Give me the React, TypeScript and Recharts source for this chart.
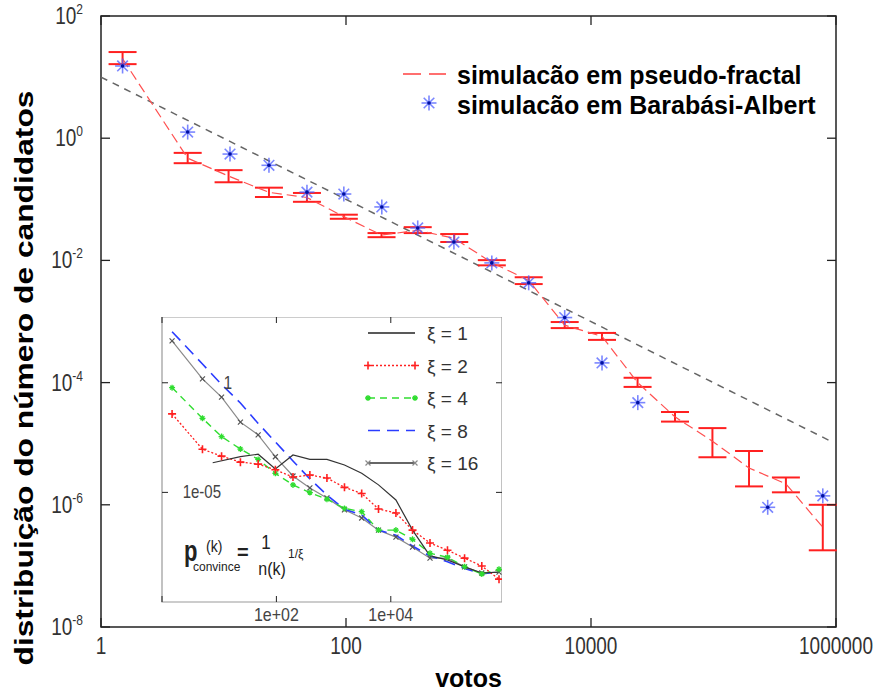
import React from 'react'
import {
  ComposedChart, LineChart, Line, Scatter, XAxis, YAxis, ErrorBar, ReferenceArea,
} from 'recharts'

const FONT = '"Liberation Sans", Arial, Helvetica, sans-serif'

// votos (shared x for the main curves and the inset)
const VOTOS = [1.5, 5.1, 11, 23.5, 48, 96, 195, 385, 765, 1550, 3100, 6100, 12300, 24000, 48500, 98000, 195000, 390000, 780000]

// simulação em pseudo-fractal: value and error bar ends
const PF_Y = [20, 0.47, 0.24, 0.13, 0.107, 0.052, 0.026, 0.031, 0.023, 0.0092, 0.0047, 8.7e-4, 5.7e-4, 1.0e-4, 2.75e-5, 1.1e-5, 4.0e-6, 2.2e-6, 4.3e-7]
const PF_LO = [16.3, 0.39, 0.19, 0.109, 0.091, 0.048, 0.024, 0.028, 0.020, 0.0083, 0.0041, 7.8e-4, 5.0e-4, 8.5e-5, 2.3e-5, 6.0e-6, 2.0e-6, 1.6e-6, 1.8e-7]
const PF_HI = [25.7, 0.575, 0.30, 0.155, 0.127, 0.056, 0.028, 0.035, 0.027, 0.0101, 0.0053, 9.8e-4, 6.5e-4, 1.2e-4, 3.3e-5, 1.8e-5, 7.6e-6, 2.8e-6, 1.0e-6]

// simulação em Barabási-Albert
const BA_X = [1.5, 5.1, 11.3, 23.5, 48, 96, 196, 385, 760, 1550, 3100, 6100, 12300, 24100, 277000, 780000]
const BA_Y = [15.2, 1.26, 0.55, 0.36, 0.131, 0.122, 0.075, 0.034, 0.020, 0.0091, 0.0043, 0.00116, 2.1e-4, 4.7e-5, 9.1e-7, 1.4e-6]

// dashed reference power law
const FIT_X = [1, 930000]
const FIT_Y = [10, 1.07e-5]

const X_TICKS = [1, 100, 10000, 1000000]
const Y_TICKS = [100, 1, 0.01, 1e-4, 1e-6, 1e-8]

// inset: xi = 1 has its own x values
const XI1_X = [7.7, 23.5, 48, 96, 195, 385, 765, 1550, 3100, 6100, 12300, 24000, 48500, 98000, 195000, 390000, 780000]
const XI1_Y = [2.25e-4, 4.3e-4, 5.5e-4, 1.17e-4, 5.1e-4, 3.2e-4, 3.2e-4, 1.78e-4, 7.4e-5, 2.2e-5, 4.5e-6, 1.9e-7, 1.26e-8, 8.3e-9, 4.0e-9, 2.1e-9, 2.3e-9]
const XI2_Y = [0.038, 9.3e-4, 4.5e-4, 2.4e-4, 1.95e-4, 1.07e-4, 5.0e-5, 6.2e-5, 4.5e-5, 1.7e-5, 8.9e-6, 1.74e-6, 1.15e-6, 1.9e-7, 4.9e-8, 2.3e-8, 1.0e-8, 4.4e-9, 1.1e-9]
const XI4_Y = [0.60, 0.024, 3.5e-3, 9.5e-4, 3.2e-4, 7.4e-5, 2.2e-5, 9.8e-6, 4.9e-6, 1.86e-6, 1.32e-6, 1.9e-7, 1.9e-7, 7.2e-8, 1.66e-8, 1.1e-8, 4.1e-9, 1.9e-9, 3.1e-9]
const XI8_Y = [214, 7.2, 0.83, 0.12, 0.014, 2.0e-3, 2.7e-4, 4.1e-5, 7.6e-6, 1.7e-6, 9.3e-7, 1.9e-7, 1.1e-7, 3.6e-8, 1.26e-8, 6.9e-9, 3.4e-9, 1.9e-9, 2.4e-9]
const XI16_Y = [81, 1.5, 0.22, 0.016, 4.2e-3, 4.2e-4, 5.6e-5, 1.6e-5, 5.6e-6, 1.6e-6, 6.8e-7, 1.9e-7, 9.1e-8, 3.2e-8, 1.0e-8, 1.0e-8, 4.0e-9, 2.1e-9, 2.3e-9]

const INSET_X_TICKS = [1, 100, 10000]
const INSET_Y_TICKS = [1, 1e-5]

const RED = '#ff2020'
const GREEN = '#30dd30'
const BLUE = '#2a3cff'
const GREY = '#8a8a8a'

const PLOT_TOP = 16
const PLOT_RIGHT = 836
const INSET_W = 341

const zip = (xs: number[], ys: number[]) => xs.map((x, i) => ({ x, y: ys[i] }))

const pfData = VOTOS.map((x, i) => ({ x, y: PF_Y[i], err: [PF_Y[i] - PF_LO[i], PF_HI[i] - PF_Y[i]] }))
const baData = zip(BA_X, BA_Y)
const fitData = zip(FIT_X, FIT_Y)

const MainXTick = ({ x, y, payload }: any) => (
  <g>
    <line x1={x} y1={y} x2={x} y2={y - 9} stroke="#222" strokeWidth={1.3} />
    <line x1={x} y1={PLOT_TOP} x2={x} y2={PLOT_TOP + 9} stroke="#222" strokeWidth={1.3} />
    <text transform={`translate(${x},${y + 27}) scale(1,1.3)`} textAnchor="middle"
      fontSize={19} fill="#333" fontFamily={FONT}>{payload.value}</text>
  </g>
)

const MainYTick = ({ x, y, payload }: any) => {
  const exp = Math.round(Math.log10(payload.value))
  return (
    <g>
      <line x1={x} y1={y} x2={x + 9} y2={y} stroke="#222" strokeWidth={1.3} />
      <line x1={PLOT_RIGHT} y1={y} x2={PLOT_RIGHT - 9} y2={y} stroke="#222" strokeWidth={1.3} />
      <text transform={`translate(${x - 18},${y + 8}) scale(1,1.25)`} textAnchor="end"
        fontSize={19} fill="#333" fontFamily={FONT}>
        10<tspan dy={-8} fontSize={12}>{exp}</tspan>
      </text>
    </g>
  )
}

const Star = ({ cx, cy }: any) => {
  const r = 7.5
  const d = r * 0.707
  return (
    <g stroke="#4d5dff" strokeWidth={1.6} strokeOpacity={0.75}>
      <line x1={cx - r} y1={cy} x2={cx + r} y2={cy} />
      <line x1={cx} y1={cy - r} x2={cx} y2={cy + r} />
      <line x1={cx - d} y1={cy - d} x2={cx + d} y2={cy + d} />
      <line x1={cx - d} y1={cy + d} x2={cx + d} y2={cy - d} />
      <circle cx={cx} cy={cy} r={1.8} fill="#0010a0" stroke="none" />
    </g>
  )
}

const InsetXTick = ({ x, y, payload }: any) => {
  const v = payload.value
  const exp = Math.round(Math.log10(v))
  return (
    <g>
      <line x1={x} y1={y} x2={x} y2={y - 6} stroke="#222" />
      <line x1={x} y1={0} x2={x} y2={6} stroke="#222" />
      {v !== 1 && (
        <text transform={`translate(${x},${y + 19}) scale(1,1.2)`} textAnchor="middle"
          fontSize={16} fill="#444" fontFamily={FONT}>{`1e+${String(exp).padStart(2, '0')}`}</text>
      )}
    </g>
  )
}

const InsetYTick = ({ x, y, payload }: any) => {
  const v = payload.value
  const exp = Math.round(Math.log10(v))
  const label = exp === 0 ? '1' : `1e-${String(-exp).padStart(2, '0')}`
  const right = exp === 0 ? 70 : 59
  return (
    <g>
      <line x1={x} y1={y} x2={x + 6} y2={y} stroke="#222" />
      <line x1={INSET_W} y1={y} x2={INSET_W - 6} y2={y} stroke="#222" />
      <text transform={`translate(${x + right},${y + 6}) scale(1,1.2)`} textAnchor="end"
        fontSize={15} fill="#444" fontFamily={FONT}>{label}</text>
    </g>
  )
}

const plusDot = (color: string) => (p: any) => (
  <path key={p.index} d={`M${p.cx - 4},${p.cy}h8M${p.cx},${p.cy - 4}v8`} stroke={color} strokeWidth={1.6} fill="none" />
)
const crossDot = (color: string) => (p: any) => (
  <path key={p.index} d={`M${p.cx - 2.5},${p.cy - 2.5}l5,5M${p.cx - 2.5},${p.cy + 2.5}l5,-5`} stroke={color} strokeWidth={1.2} fill="none" />
)
const starDot = (color: string) => (p: any) => (
  <g key={p.index} stroke={color} strokeWidth={1.3}>
    <path d={`M${p.cx - 3},${p.cy}h6M${p.cx},${p.cy - 3}v6M${p.cx - 2},${p.cy - 2}l4,4M${p.cx - 2},${p.cy + 2}l4,-4`} />
  </g>
)

const INSET_LEGEND = [
  { label: '1', color: '#222', dash: undefined, marker: 'none' },
  { label: '2', color: RED, dash: '2 2', marker: 'plus' },
  { label: '4', color: GREEN, dash: '7 5', marker: 'star' },
  { label: '8', color: BLUE, dash: '12 7', marker: 'none' },
  { label: '16', color: '#333', dash: undefined, marker: 'cross' },
]

function legendMarker(kind: string, color: string, cx: number, cy: number) {
  if (kind === 'plus') return plusDot(color)({ cx, cy, index: cx })
  if (kind === 'star') return starDot(color)({ cx, cy, index: cx })
  if (kind === 'cross') return crossDot(GREY)({ cx, cy, index: cx })
  return null
}

export default function App() {
  return (
    <div style={{ position: 'absolute', left: 0, top: 0, width: 881, height: 696, background: '#fff', fontFamily: FONT }}>
      <ComposedChart width={881} height={696} margin={{ top: 16, right: 45, bottom: 0, left: 0 }}>
        <XAxis dataKey="x" type="number" scale="log" domain={[1, 1000000]} allowDataOverflow
          ticks={X_TICKS} height={69} axisLine={false} tickLine={false} tickSize={0} tickMargin={0}
          tick={<MainXTick />} interval={0}
          label={{ value: 'votos', position: 'insideBottom', offset: 9,
            style: { fontWeight: 'bold', fontSize: 25, fill: '#000', fontFamily: FONT } }} />
        <YAxis type="number" scale="log" domain={[1e-8, 100]} allowDataOverflow ticks={Y_TICKS}
          width={101} axisLine={false} tickLine={false} tickSize={0} tickMargin={0}
          tick={<MainYTick />} interval={0} />
        <ReferenceArea x1={1} x2={1000000} y1={1e-8} y2={100} fill="none" stroke="#222"
          strokeWidth={1.5} ifOverflow="visible" />
        <Line data={fitData} dataKey="y" stroke="#666" strokeDasharray="7 6" strokeWidth={1.5}
          dot={false} isAnimationActive={false} />
        <Line data={pfData} dataKey="y" stroke="#ff5050" strokeDasharray="10 5" strokeWidth={1.2}
          dot={false} isAnimationActive={false}>
          <ErrorBar dataKey="err" width={14} stroke={RED} strokeWidth={2} direction="y" />
        </Line>
        <Scatter data={baData} dataKey="y" shape={<Star />} isAnimationActive={false} />
      </ComposedChart>

      {/* inset */}
      <div style={{ position: 'absolute', left: 162, top: 317, width: 340, height: 285, background: '#fff' }} />
      <div style={{ position: 'absolute', left: 161, top: 317 }}>
        <LineChart width={INSET_W} height={310} margin={{ top: 0, right: 0, bottom: 0, left: 0 }}>
          <XAxis dataKey="x" type="number" scale="log" domain={[1, 880000]} allowDataOverflow
            ticks={INSET_X_TICKS} height={25} axisLine={false} tickLine={false} tickSize={0}
            tickMargin={0} tick={<InsetXTick />} interval={0} />
          <YAxis type="number" scale="log" domain={[1e-10, 1000]} allowDataOverflow
            ticks={INSET_Y_TICKS} width={1} axisLine={false} tickLine={false} tickSize={0}
            tickMargin={0} tick={<InsetYTick />} interval={0} />
          <ReferenceArea x1={1} x2={880000} y1={1e-10} y2={1000} fill="none" stroke="#9a9a9a"
            strokeWidth={1.2} ifOverflow="visible" />
          <Line data={zip(VOTOS, XI16_Y)} dataKey="y" stroke={GREY} strokeWidth={1.2}
            dot={crossDot('#555')} isAnimationActive={false} />
          <Line data={zip(VOTOS, XI8_Y)} dataKey="y" stroke={BLUE} strokeDasharray="12 7"
            strokeWidth={1.6} dot={false} isAnimationActive={false} />
          <Line data={zip(VOTOS, XI4_Y)} dataKey="y" stroke={GREEN} strokeDasharray="7 5"
            strokeWidth={1.4} dot={starDot(GREEN)} isAnimationActive={false} />
          <Line data={zip(VOTOS, XI2_Y)} dataKey="y" stroke={RED} strokeDasharray="2 2"
            strokeWidth={1.3} dot={plusDot(RED)} isAnimationActive={false} />
          <Line data={zip(XI1_X, XI1_Y)} dataKey="y" stroke="#333" strokeWidth={1.2}
            dot={false} isAnimationActive={false} />
        </LineChart>
      </div>

      {/* legends and labels */}
      <svg width={881} height={696} style={{ position: 'absolute', left: 0, top: 0, pointerEvents: 'none' }}
        fontFamily={FONT}>
        <line x1={403} y1={74} x2={446} y2={74} stroke="#ff4040" strokeWidth={1.5} strokeDasharray="18 8" />
        <text x={457} y={84} fontSize={25} fontWeight="bold" fill="#000">simulacão em pseudo-fractal</text>
        <Star cx={429} cy={103} />
        <text x={457} y={114} fontSize={25} fontWeight="bold" fill="#000">simulacão em Barabási-Albert</text>

        <text transform="translate(33,378) rotate(-90)" textAnchor="middle" fontSize={25}
          fontWeight="bold" fill="#000" textLength={575} lengthAdjust="spacingAndGlyphs">
          distribuição do número de candidatos
        </text>

        {INSET_LEGEND.map((it, i) => {
          const yy = 333 + i * 32.5
          return (
            <g key={it.label}>
              <line x1={368} y1={yy} x2={415} y2={yy} stroke={it.color} strokeWidth={1.4}
                strokeDasharray={it.dash} />
              {legendMarker(it.marker, it.color, 368, yy)}
              {legendMarker(it.marker, it.color, 415, yy)}
              <text x={427} y={yy + 7} fontSize={19} fill="#333">{`ξ = ${it.label}`}</text>
            </g>
          )
        })}

        <g fill="#222">
          <text transform="translate(184,561) scale(1,1.3)" fontSize={22} fontWeight="bold">p</text>
          <text transform="translate(206,552) scale(1,1.2)" fontSize={14}>(k)</text>
          <text x={193} y={571} fontSize={12}>convince</text>
          <text x={237} y={559} fontSize={20} fontWeight="bold">=</text>
          <text transform="translate(266,549) scale(1,1.2)" fontSize={17} textAnchor="middle">1</text>
          <text transform="translate(272,575) scale(1,1.2)" fontSize={16} textAnchor="middle">n(k)</text>
          <text x={288} y={558} fontSize={12}>1/ξ</text>
        </g>
      </svg>
    </div>
  )
}
